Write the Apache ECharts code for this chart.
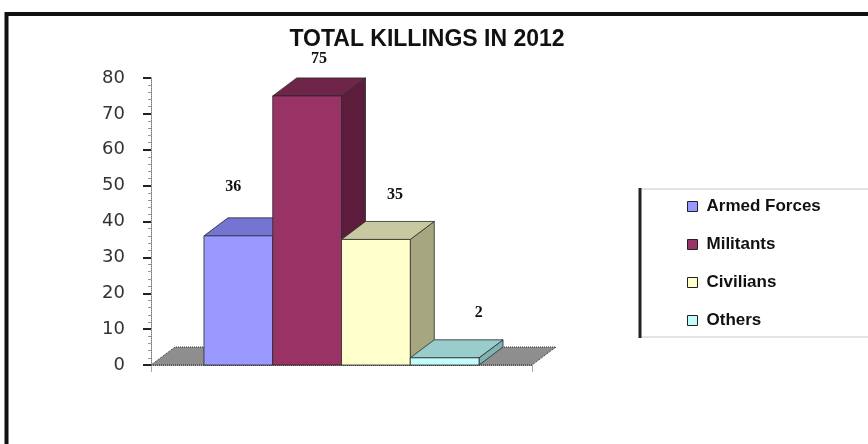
<!DOCTYPE html>
<html><head><meta charset="utf-8">
<script src="https://cdn.jsdelivr.net/npm/echarts@6/dist/echarts.min.js"></script>
<style>html,body{margin:0;padding:0;background:#fff}#c{width:868px;height:444px}</style>
</head><body><div id="c"></div>
<script>
const title = 'TOTAL KILLINGS IN 2012';
const categories = ['Armed Forces', 'Militants', 'Civilians', 'Others'];
const values = [36, 75, 35, 2];
const yMin = 0, yMax = 80, yStep = 10;

// styles
const faceColors = [
  {front: '#9999ff', top: '#7474d2', side: '#6262b4'},
  {front: '#993366', top: '#6f2449', side: '#5c1d3d'},
  {front: '#ffffcc', top: '#c9c9a1', side: '#a6a680'},
  {front: '#c4fcfc', top: '#99cccc', side: '#80b3b3'}
];
const DX = 24, DY = -18;
const labelOff = [[-5, -49], [12, -37], [19, -45], [34, -45]];
const edge = '#2a2a2a';

const chart = echarts.init(document.getElementById('c'), null, {renderer: 'canvas'});

function barRender(i) {
  return function (params, api) {
    const base = api.coord([0, 0]);
    const topPt = api.coord([0, api.value(1)]);
    const catW = api.size([1, 0])[0];
    const bw = catW * 0.722 / categories.length;
    const x0 = base[0] - bw * categories.length / 2 + i * bw;
    const x1 = x0 + bw;
    const yb = base[1], yt = topPt[1];
    const c = faceColors[i];
    const ls = {stroke: edge, lineWidth: 0.8};
    return {
      type: 'group',
      children: [
        {type: 'polygon', shape: {points: [[x1, yb], [x1 + DX, yb + DY], [x1 + DX, yt + DY], [x1, yt]]},
          style: Object.assign({fill: c.side}, ls)},
        {type: 'polygon', shape: {points: [[x0, yt], [x1, yt], [x1 + DX, yt + DY], [x0 + DX, yt + DY]]},
          style: Object.assign({fill: c.top}, ls)},
        {type: 'rect', shape: {x: x0, y: yt, width: bw, height: yb - yt},
          style: Object.assign({fill: c.front}, ls)},
        {type: 'text', x: (x0 + x1) / 2 + labelOff[i][0], y: yt + labelOff[i][1],
          style: {text: String(api.value(1)), fill: '#111', font: 'bold 16px "Liberation Serif", serif',
            align: 'center', verticalAlign: 'middle'}}
      ]
    };
  };
}

function floorRender(params, api) {
  const base = api.coord([0, 0]);
  const catW = api.size([1, 0])[0];
  const xl = base[0] - catW / 2, xr = base[0] + catW / 2, y = base[1];
  return {
    type: 'polygon',
    shape: {points: [[xl, y], [xr, y], [xr + DX, y + DY], [xl + DX, y + DY]]},
    style: {fill: '#8e8e8e', stroke: '#333', lineWidth: 1, lineDash: [1, 1]}
  };
}

const series = [{
  type: 'custom', name: '_floor', renderItem: floorRender, data: [[0, 0]], silent: true, z: 1
}];
categories.forEach((name, i) => {
  series.push({
    type: 'custom', name: name, renderItem: barRender(i),
    data: [[0, values[i]]], itemStyle: {color: faceColors[i].front}, z: 2
  });
});

chart.setOption({
  animation: false,
  backgroundColor: '#ffffff',
  title: {
    text: title, left: 422, top: 23, textAlign: 'center',
    textStyle: {fontFamily: '"Liberation Sans Narrow", "Liberation Sans", sans-serif', fontWeight: 'bold', fontSize: 23, color: '#111'}
  },
  legend: {
    data: categories, orient: 'vertical', left: 687, top: 198, padding: 0,
    icon: 'rect', itemWidth: 10, itemHeight: 10, itemGap: 21,
    itemStyle: {borderColor: '#222', borderWidth: 1},
    textStyle: {fontFamily: '"Liberation Sans", sans-serif', fontWeight: 'bold', fontSize: 17, color: '#111', lineHeight: 16, padding: [0, 0, 0, 4]}
  },
  grid: {left: 151, right: 336, top: 78, bottom: 79, containLabel: false},
  xAxis: {
    type: 'category', data: ['2012'], boundaryGap: true,
    axisLine: {lineStyle: {color: '#777', width: 1, type: 'dotted'}},
    axisTick: {show: true, length: 7, lineStyle: {color: '#aaa'}},
    axisLabel: {show: false}, splitLine: {show: false}
  },
  yAxis: {
    type: 'value', min: yMin, max: yMax, interval: yStep,
    axisLine: {show: true, lineStyle: {color: '#777', width: 1, type: 'dotted'}},
    axisTick: {show: true, length: 8, lineStyle: {color: '#222', width: 2}},
    minorTick: {show: true, splitNumber: 5, length: 3, lineStyle: {color: '#999'}},
    axisLabel: {margin: 26, fontFamily: '"DejaVu Sans", sans-serif', fontSize: 18, color: '#333'},
    splitLine: {show: false}
  },
  graphic: [
    {type: 'rect', shape: {x: 6.5, y: 14, width: 900, height: 500}, style: {fill: 'none', stroke: '#111', lineWidth: 4}, z: 100},
    {type: 'line', shape: {x1: 640, y1: 189, x2: 868, y2: 189}, style: {stroke: '#c8c8c8', lineWidth: 1}, z: 100},
    {type: 'line', shape: {x1: 640, y1: 337, x2: 868, y2: 337}, style: {stroke: '#c8c8c8', lineWidth: 1}, z: 100},
    {type: 'line', shape: {x1: 640, y1: 188, x2: 640, y2: 338}, style: {stroke: '#222', lineWidth: 3}, z: 100}
  ],
  series: series
});
</script></body></html>
